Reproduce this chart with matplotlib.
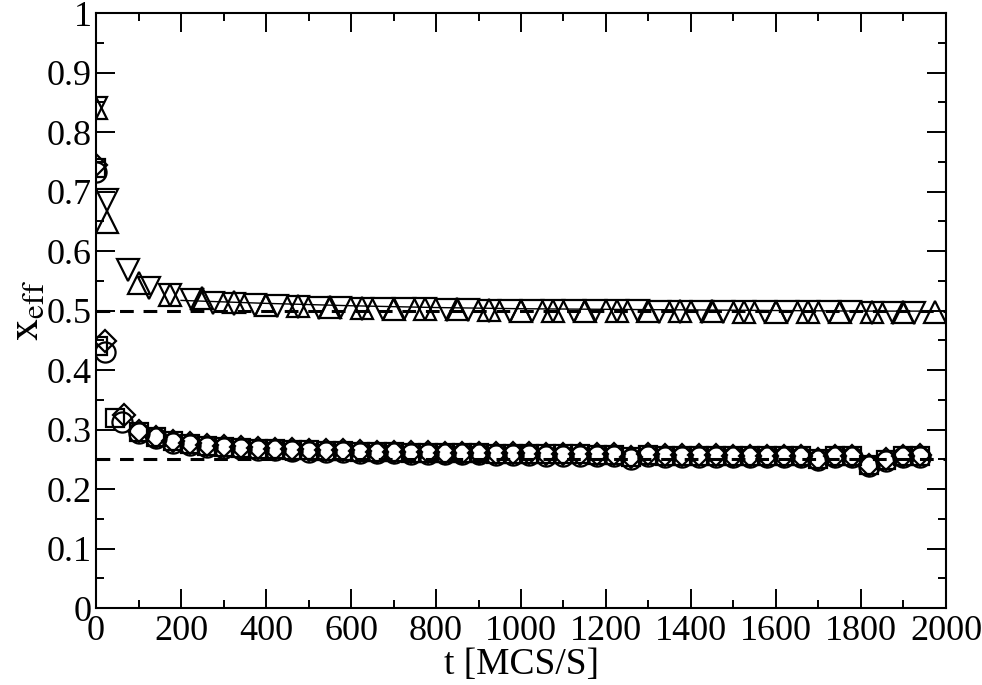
import matplotlib
matplotlib.use("Agg")
import matplotlib.pyplot as plt
from matplotlib.ticker import MultipleLocator

# ---- data ----
t_down = [0, 25] + list(range(75, 1926, 50))
x_down = [0.840, 0.686, 0.568, 0.538, 0.526, 0.518, 0.513, 0.511, 0.509, 0.507,
          0.506, 0.505, 0.504, 0.503, 0.503, 0.502, 0.502, 0.501, 0.501, 0.500,
          0.500, 0.500, 0.500, 0.499, 0.499, 0.499, 0.499, 0.498, 0.498, 0.498,
          0.498, 0.498, 0.497, 0.497, 0.497, 0.497, 0.497, 0.496, 0.496, 0.496]

t_up = [0, 25] + list(range(100, 1976, 75))
x_up = [0.840, 0.649, 0.546, 0.526, 0.521, 0.514, 0.510, 0.507, 0.506, 0.504,
        0.503, 0.502, 0.502, 0.501, 0.500, 0.500, 0.500, 0.499, 0.499, 0.499,
        0.499, 0.498, 0.498, 0.498, 0.498, 0.497, 0.497, 0.497]

t_fit = [200, 400, 600, 800, 1000, 1200, 1400, 1600, 1800, 1975]
x_fit = [0.517, 0.512, 0.508, 0.505, 0.503, 0.502, 0.501, 0.500, 0.499, 0.499]

t_tail = list(range(100, 1941, 40))
x_circ_tail = [0.294, 0.285, 0.278, 0.274, 0.271, 0.269, 0.267, 0.266, 0.265, 0.264,
               0.263, 0.262, 0.262, 0.261, 0.260, 0.260, 0.259, 0.259, 0.258, 0.258,
               0.258, 0.257, 0.257, 0.257, 0.256, 0.256, 0.256, 0.255, 0.255, 0.251,
               0.255, 0.254, 0.254, 0.254, 0.254, 0.253, 0.253, 0.253, 0.253, 0.253,
               0.248, 0.253, 0.253, 0.238, 0.247, 0.253, 0.254]
t_circ = [0, 20, 60] + t_tail
x_circ = [0.733, 0.430, 0.313] + x_circ_tail

t_sq = [0, 5, 45] + t_tail
x_sq = [0.740, 0.440, 0.319] + [v + 0.002 for v in x_circ_tail]

t_dia = [0, 20, 65] + t_tail
x_dia = [0.745, 0.448, 0.324] + [v + 0.003 for v in x_circ_tail]

ref_t = [0, 2000]
ref_high = [0.5, 0.5]
ref_low = [0.25, 0.25]

# ---- style ----
plt.rcParams['font.family'] = ['Liberation Serif', 'DejaVu Serif']
plt.rcParams['mathtext.fontset'] = 'stix'

fig = plt.figure(figsize=(9.82, 6.85), dpi=100)
ax = fig.add_axes([0.0978, 0.1124, 0.8655, 0.8686])

ax.plot(ref_t, ref_high, ls=(0, (4.5, 3.2)), color='black', lw=2.2, zorder=1)
ax.plot(ref_t, ref_low, ls=(0, (4.5, 3.2)), color='black', lw=2.2, zorder=1)
ax.plot(t_fit, x_fit, color='black', lw=1.0, zorder=2)

mk = dict(ls='none', mfc='none', mec='black', mew=1.6, zorder=3)
ax.plot(t_circ, x_circ, marker='o', ms=14.5, **mk)
ax.plot(t_sq, x_sq, marker='s', ms=12.5, **mk)
ax.plot(t_dia, x_dia, marker='D', ms=11, **mk)
ax.plot(t_up, x_up, marker='^', ms=16, **mk)
ax.plot(t_down, x_down, marker='v', ms=16, **mk)

ax.set_xlim(0, 2000)
ax.set_ylim(0, 1)
ax.xaxis.set_major_locator(MultipleLocator(200))
ax.xaxis.set_minor_locator(MultipleLocator(100))
ax.yaxis.set_minor_locator(MultipleLocator(0.05))
ax.set_yticks([0, 0.1, 0.2, 0.3, 0.4, 0.5, 0.6, 0.7, 0.8, 0.9, 1.0])
ax.set_yticklabels(['0', '0.1', '0.2', '0.3', '0.4', '0.5', '0.6', '0.7', '0.8', '0.9', '1'])

ax.tick_params(which='both', direction='in', top=True, right=True, labelsize=26, width=1.4)
ax.tick_params(which='major', length=14)
ax.tick_params(axis='y', which='major', pad=3)
ax.tick_params(axis='x', which='major', pad=5)
ax.tick_params(which='minor', length=6)
for s in ax.spines.values():
    s.set_linewidth(1.5)

ax.set_xlabel('t [MCS/S]', fontsize=27, labelpad=0)
ax.set_ylabel(r'$\mathrm{x}_{\mathrm{eff}}$', fontsize=32, labelpad=0)

fig.savefig('out.png', dpi=100)
